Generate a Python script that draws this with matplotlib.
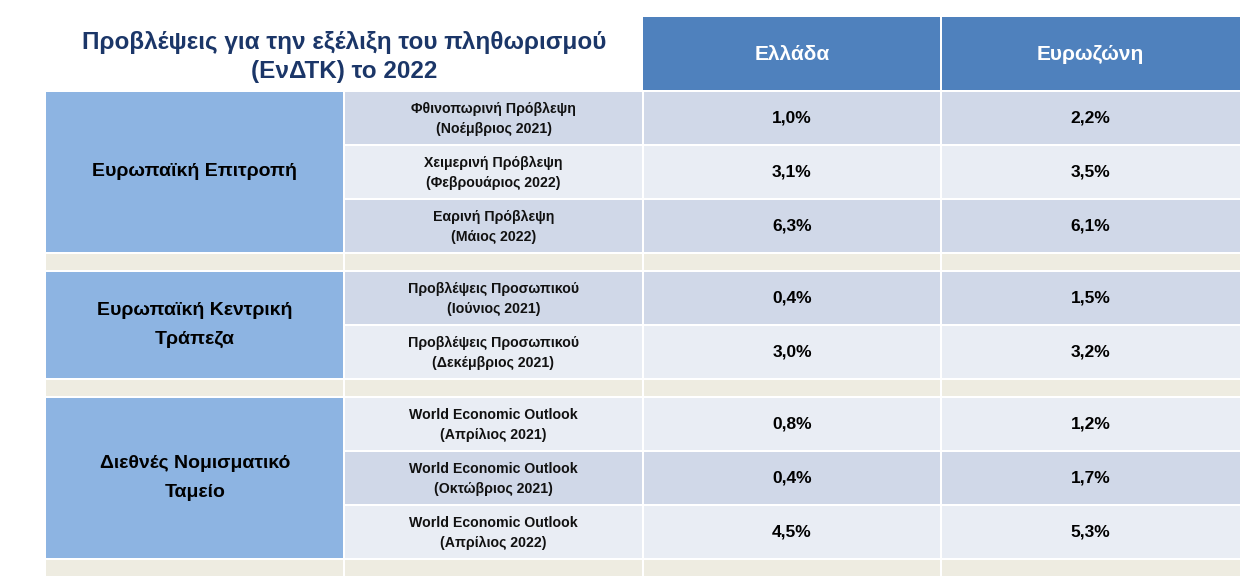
import matplotlib.pyplot as plt
from matplotlib.patches import Rectangle

# Dados da tabela
titulo = "Προβλέψεις για την εξέλιξη του πληθωρισμού\n(ΕνΔΤΚ) το 2022"
colunas = ["Ελλάδα", "Ευρωζώνη"]
grupos = ["Ευρωπαϊκή Επιτροπή", "Ευρωπαϊκή Κεντρική\nΤράπεζα", "Διεθνές Νομισματικό\nΤαμείο"]
linhas_por_grupo = [3, 2, 3]
fontes = [
    "Φθινοπωρινή Πρόβλεψη\n(Νοέμβριος 2021)",
    "Χειμερινή Πρόβλεψη\n(Φεβρουάριος 2022)",
    "Εαρινή Πρόβλεψη\n(Μάιος 2022)",
    "Προβλέψεις Προσωπικού\n(Ιούνιος 2021)",
    "Προβλέψεις Προσωπικού\n(Δεκέμβριος 2021)",
    "World Economic Outlook\n(Απρίλιος 2021)",
    "World Economic Outlook\n(Οκτώβριος 2021)",
    "World Economic Outlook\n(Απρίλιος 2022)",
]
ellada = ["1,0%", "3,1%", "6,3%", "0,4%", "3,0%", "0,8%", "0,4%", "4,5%"]
eurozoni = ["2,2%", "3,5%", "6,1%", "1,5%", "3,2%", "1,2%", "1,7%", "5,3%"]
escuro = [True, False, True, True, False, False, True, False]

# Cores
azul_cab = "#4F81BD"
azul_grupo = "#8DB4E2"
cor_escura = "#D0D8E8"
cor_clara = "#E9EDF4"
cor_sep = "#EEECE1"
cor_titulo = "#1B3668"

plt.rcParams['font.family'] = ['Liberation Sans', 'DejaVu Sans']

fig = plt.figure(figsize=(12.56, 5.88), dpi=100)
ax = fig.add_axes([0, 0, 1, 1])
ax.set_xlim(0, 1256)
ax.set_ylim(588, 0)
ax.axis("off")

# limites das colunas (px)
xs = [46, 344, 643, 941, 1240]
gap = 2
alt_linha = 52
alt_sep = 16

def caixa(x0, x1, y0, y1, cor):
    ax.add_patch(Rectangle((x0, y0), x1 - x0, y1 - y0, facecolor=cor, edgecolor="none"))

# cabeçalho
caixa(xs[2], xs[3] - 1, 17, 90, azul_cab)
caixa(xs[3] + 1, xs[4], 17, 90, azul_cab)
for i, c in enumerate(colunas):
    ax.text((xs[2 + i] + xs[3 + i]) / 2, 55, c, ha="center", va="center",
            color="white", fontsize=15, fontweight="bold")

ax.text(344, 57, titulo, ha="center", va="center", color=cor_titulo,
        fontsize=17.5, fontweight="bold", linespacing=1.35)

# corpo
y = 92
k = 0
for g, n in zip(grupos, linhas_por_grupo):
    y_ini = y
    for j in range(n):
        y0, y1 = y, y + alt_linha
        cor = cor_escura if escuro[k] else cor_clara
        caixa(xs[1] + 1, xs[2] - 1, y0, y1, cor)
        caixa(xs[2] + 1, xs[3] - 1, y0, y1, cor)
        caixa(xs[3] + 1, xs[4], y0, y1, cor)
        yc = (y0 + y1) / 2
        ax.text((xs[1] + xs[2]) / 2, yc + 1, fontes[k], ha="center", va="center",
                fontsize=10.2, fontweight="bold", linespacing=1.6, color="#111111")
        ax.text((xs[2] + xs[3]) / 2, yc, ellada[k], ha="center", va="center",
                fontsize=12.5, fontweight="bold", color="black")
        ax.text((xs[3] + xs[4]) / 2, yc, eurozoni[k], ha="center", va="center",
                fontsize=12.5, fontweight="bold", color="black")
        y = y1 + gap
        k += 1
    y_fim = y - gap
    caixa(xs[0], xs[1] - 1, y_ini, y_fim, azul_grupo)
    ax.text((xs[0] + xs[1]) / 2, (y_ini + y_fim) / 2, g, ha="center", va="center",
            fontsize=14, fontweight="bold", linespacing=1.95, color="black")
    # linha separadora
    caixa(xs[0], xs[1] - 1, y, y + alt_sep, cor_sep)
    caixa(xs[1] + 1, xs[2] - 1, y, y + alt_sep, cor_sep)
    caixa(xs[2] + 1, xs[3] - 1, y, y + alt_sep, cor_sep)
    caixa(xs[3] + 1, xs[4], y, y + alt_sep, cor_sep)
    y = y + alt_sep + gap

fig.savefig("out.png", dpi=100, facecolor="white")
